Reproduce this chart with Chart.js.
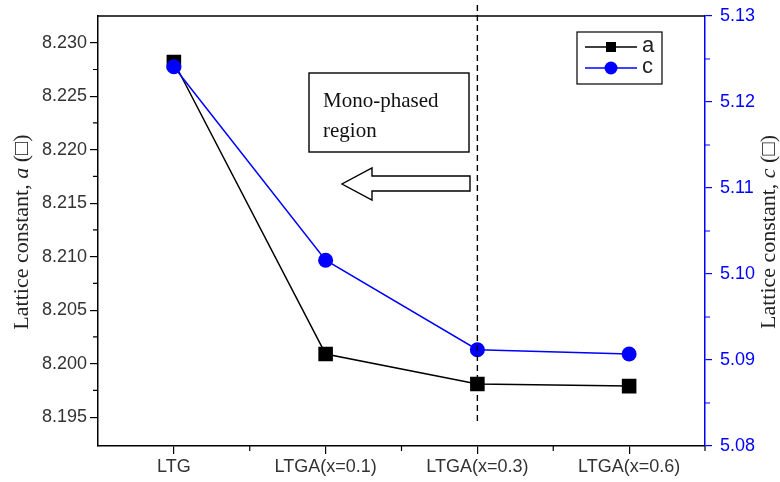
<!DOCTYPE html>
<html>
<head>
<meta charset="utf-8">
<script src="https://cdn.jsdelivr.net/npm/chart.js@4/dist/chart.umd.min.js"></script>
<style>
html,body{margin:0;padding:0;background:#fff}
#wrap{width:780px;height:482px}
</style>
</head>
<body>
<div id="wrap"><canvas id="chart"></canvas></div>
<script>
// data
const samples=['LTG','LTGA(x=0.1)','LTGA(x=0.3)','LTGA(x=0.6)'];
const latticeA=[8.2282,8.2009,8.1981,8.1979];
const latticeC=[5.1241,5.1016,5.0912,5.0907];
const aRange=[8.1923,8.2325];
const cRange=[5.08,5.13];
const aStep=0.005, cStep=0.01;

const SANS='"Liberation Sans", Arial, sans-serif';
const SERIF='"Liberation Serif", "Times New Roman", serif';
const BLUE='#0000ff';

function drawTitle(ctx,cx,cy,parts){
  ctx.save();
  ctx.translate(cx,cy);
  ctx.rotate(-Math.PI/2);
  let w=0;
  parts.forEach(p=>{ctx.font=p[1]+' 22px '+SERIF;w+=ctx.measureText(p[0]).width;});
  let x=-w/2;
  ctx.textBaseline='middle';
  ctx.fillStyle='#222';
  parts.forEach(p=>{
    ctx.font=p[1]+' 22px '+SERIF;
    ctx.fillText(p[0],x,0);
    x+=ctx.measureText(p[0]).width;
  });
  ctx.restore();
}

const extras={
  id:'extras',
  afterDraw(c){
    const ctx=c.ctx, a=c.chartArea;
    const xs=c.scales.x, ya=c.scales.y, yc=c.scales.y1;
    ctx.save();
    // top frame line
    ctx.strokeStyle='#000';ctx.lineWidth=1.5;
    ctx.beginPath();ctx.moveTo(a.left,a.top);ctx.lineTo(a.right,a.top);ctx.stroke();

    // minor ticks
    ctx.lineWidth=1.2;
    ctx.beginPath();
    for(let v=aRange[0]-aRange[0]%aStep+aStep/2;v<aRange[1];v+=aStep){
      const y=ya.getPixelForValue(v);
      if(y<a.top+3||y>a.bottom-3)continue;
      ctx.moveTo(a.left,y);ctx.lineTo(a.left-5,y);
    }
    for(let i=1;i<=samples.length;i++){
      const x=xs.getPixelForValue(i-0.5);
      ctx.moveTo(x,a.bottom);ctx.lineTo(x,a.bottom+5);
    }
    ctx.stroke();
    ctx.strokeStyle=BLUE;
    ctx.beginPath();
    for(let v=cRange[0]+cStep/2;v<cRange[1];v+=cStep){
      const y=yc.getPixelForValue(v);
      ctx.moveTo(a.right,y);ctx.lineTo(a.right+5,y);
    }
    ctx.stroke();

    // dashed boundary at x=0.3
    const dx=xs.getPixelForValue(2);
    ctx.strokeStyle='#000';ctx.lineWidth=1.4;ctx.setLineDash([6,4]);
    ctx.beginPath();ctx.moveTo(dx,5);ctx.lineTo(dx,ya.getPixelForValue(8.1945));ctx.stroke();
    ctx.setLineDash([]);

    // text box
    ctx.lineWidth=1.4;
    ctx.strokeRect(309,73,160,79);
    ctx.fillStyle='#111';
    ctx.font='21px '+SERIF;
    ctx.textBaseline='alphabetic';
    ctx.textAlign='left';
    ctx.fillText('Mono-phased',323,107);
    ctx.fillText('region',323,137);

    // hollow arrow pointing left
    ctx.beginPath();
    ctx.moveTo(470,176);ctx.lineTo(372,176);ctx.lineTo(372,168);
    ctx.lineTo(342,184);ctx.lineTo(372,200);ctx.lineTo(372,191);
    ctx.lineTo(470,191);ctx.closePath();
    ctx.fillStyle='#fff';ctx.fill();ctx.stroke();

    // legend
    ctx.lineWidth=1.2;
    ctx.strokeRect(577,32,85,52);
    ctx.font='22px '+SANS;ctx.textBaseline='middle';
    ctx.strokeStyle='#000';ctx.lineWidth=1.3;
    ctx.beginPath();ctx.moveTo(585,47);ctx.lineTo(637,47);ctx.stroke();
    ctx.fillStyle='#000';ctx.fillRect(606,42,10,10);
    ctx.fillStyle='#222';ctx.fillText('a',642,46);
    ctx.strokeStyle=BLUE;
    ctx.beginPath();ctx.moveTo(585,68);ctx.lineTo(637,68);ctx.stroke();
    ctx.fillStyle=BLUE;ctx.beginPath();ctx.arc(611,68,6.5,0,Math.PI*2);ctx.fill();
    ctx.fillStyle='#222';ctx.fillText('c',642,67);

    // axis titles
    drawTitle(ctx,22,232,[['Lattice constant, ','normal'],['a','italic'],[' (\u25A1)','normal']]);
    drawTitle(ctx,769,232,[['Lattice constant, ','normal'],['c','italic'],[' (\u25A1)','normal']]);
    ctx.restore();
  }
};

new Chart(document.getElementById('chart'),{
  type:'line',
  data:{
    labels:samples,
    datasets:[
      {label:'a',data:latticeA,yAxisID:'y',order:1,borderColor:'#000',backgroundColor:'#000',
       borderWidth:1.5,pointStyle:'rect',pointRadius:10.3,pointBorderWidth:0,tension:0},
      {label:'c',data:latticeC,yAxisID:'y1',order:0,borderColor:BLUE,backgroundColor:BLUE,
       borderWidth:1.5,pointStyle:'circle',pointRadius:7.5,pointBorderWidth:0,tension:0}
    ]
  },
  options:{
    responsive:true,maintainAspectRatio:false,animation:false,
    layout:{padding:{top:16,left:0,right:0,bottom:0}},
    plugins:{legend:{display:false},tooltip:{enabled:false}},
    scales:{
      x:{
        type:'category',offset:true,
        grid:{drawOnChartArea:false,drawTicks:true,tickLength:8,offset:false,color:'#000',lineWidth:1.2},
        border:{color:'#000',width:1.5},
        ticks:{font:{family:SANS,size:18},color:'#333',padding:2,maxRotation:0,autoSkip:false},
        afterFit(s){s.height=36;s.paddingLeft=0;s.paddingRight=0;}
      },
      y:{
        position:'left',min:aRange[0],max:aRange[1],
        grid:{drawOnChartArea:false,drawTicks:true,tickLength:8,color:'#000',lineWidth:1.2},
        border:{color:'#000',width:1.5},
        ticks:{stepSize:aStep,includeBounds:false,font:{family:SANS,size:18},color:'#333',padding:3,
               callback:v=>Number(v).toFixed(3)},
        afterFit(s){s.width=98;s.paddingTop=0;s.paddingBottom=0;}
      },
      y1:{
        position:'right',min:cRange[0],max:cRange[1],
        grid:{drawOnChartArea:false,drawTicks:true,tickLength:7,color:BLUE,lineWidth:1.2},
        border:{color:BLUE,width:1.5},
        ticks:{stepSize:cStep,font:{family:SANS,size:18},color:BLUE,padding:8,
               callback:v=>Number(v).toFixed(2)},
        afterFit(s){s.width=75;s.paddingTop=0;s.paddingBottom=0;}
      }
    }
  },
  plugins:[extras]
});
</script>
</body>
</html>
